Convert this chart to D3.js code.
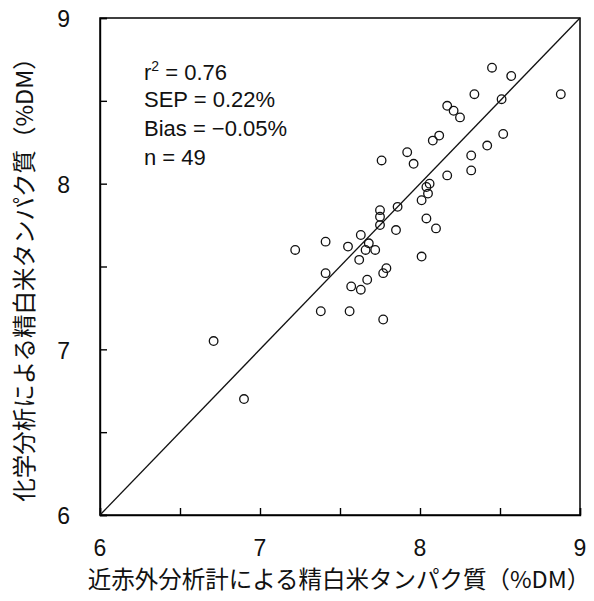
<!DOCTYPE html>
<meta charset="utf-8">
<style>
body { margin: 0; background: #fff; }
.axis path, .axis line { stroke: #000; stroke-width: 1.4; }
.stat { font-family: "Liberation Sans", Arial, sans-serif; font-size: 22px; fill: #111; }
.ticklab { font-family: "Liberation Sans", Arial, sans-serif; font-size: 23px; fill: #111; }
.title { font-family: "Noto Sans CJK JP", sans-serif; font-size: 23.5px; fill: #111; }
</style>
<body>
<script src="https://cdn.jsdelivr.net/npm/d3@7"></script>
<script>

// NIR predicted (x) vs chemical analysis (y), %DM
var nirValues = [8.45, 8.57, 8.88, 8.34, 8.51, 8.17, 8.21, 8.25, 8.12, 8.08,
                 8.52, 8.42, 7.92, 7.96, 8.32, 8.32, 8.17, 7.76, 8.06, 8.04,
                 8.05, 8.01, 7.86, 7.75, 7.75, 7.75, 8.04, 8.10, 7.85, 8.01,
                 7.79, 7.77, 7.63, 7.68, 7.55, 7.66, 7.72, 7.62, 7.41, 7.22,
                 7.41, 7.67, 7.57, 7.63, 7.38, 7.56, 7.77, 6.71, 6.90];
var chemValues = [8.70, 8.65, 8.54, 8.54, 8.51, 8.47, 8.44, 8.40, 8.29, 8.26,
                  8.30, 8.23, 8.19, 8.12, 8.17, 8.08, 8.05, 8.14, 8.00, 7.98,
                  7.94, 7.90, 7.86, 7.84, 7.80, 7.75, 7.79, 7.73, 7.72, 7.56,
                  7.49, 7.46, 7.69, 7.64, 7.62, 7.60, 7.60, 7.54, 7.65, 7.60,
                  7.46, 7.42, 7.38, 7.36, 7.23, 7.23, 7.18, 7.05, 6.70];

var tickValues = [6, 6.5, 7, 7.5, 8, 8.5, 9];
var tickLabels = [6, 7, 8, 9];
var statLines = ["SEP = 0.22%", "Bias = \u22120.05%", "n = 49"];

var xTitle = "近赤外分析計による精白米タンパク質（%DM）";
var yTitle = "化学分析による精白米タンパク質（%DM）";

///------> Setup <-----/////
var W = 594, H = 601;
var margin = {top: 18, right: 14, bottom: 86, left: 100},
    width = W - margin.left - margin.right,
    height = H - margin.top - margin.bottom;

var x = d3.scaleLinear().domain([6, 9]).range([0, width]);
var y = d3.scaleLinear().domain([6, 9]).range([height, 0]);

var svg = d3.select("body").append("svg")
    .attr("width", W)
    .attr("height", H);

var g = svg.append("g")
    .attr("transform", "translate(" + margin.left + "," + margin.top + ")");

// inward ticks, no labels (labels drawn separately)
g.append("g")
    .attr("class", "axis")
    .attr("transform", "translate(0," + height + ")")
    .call(d3.axisTop(x).tickValues(tickValues).tickSize(7).tickFormat(""));

g.append("g")
    .attr("class", "axis")
    .call(d3.axisRight(y).tickValues(tickValues).tickSize(7).tickFormat(""));

// frame
g.append("rect")
    .attr("width", width)
    .attr("height", height)
    .attr("fill", "none")
    .attr("stroke", "#000")
    .attr("stroke-width", 1.5);

// tick labels
g.selectAll(".xlab")
    .data(tickLabels)
    .enter().append("text")
    .attr("class", "ticklab")
    .attr("x", function(d) { return x(d); })
    .attr("y", height + 41)
    .attr("text-anchor", "middle")
    .text(function(d) { return d; });

g.selectAll(".ylab")
    .data(tickLabels)
    .enter().append("text")
    .attr("class", "ticklab")
    .attr("x", -30)
    .attr("y", function(d) { return y(d); })
    .attr("dy", "0.4em")
    .attr("text-anchor", "end")
    .text(function(d) { return d; });

// 1:1 line
g.append("line")
    .attr("x1", x(6)).attr("y1", y(6))
    .attr("x2", x(9)).attr("y2", y(9))
    .attr("stroke", "#111")
    .attr("stroke-width", 1.3);

// points
var data = nirValues.map(function(v, i) { return {nir: v, chem: chemValues[i]}; });

g.selectAll(".dot")
    .data(data)
    .enter().append("circle")
    .attr("class", "dot")
    .attr("cx", function(d) { return x(d.nir); })
    .attr("cy", function(d) { return y(d.chem); })
    .attr("r", 4.3)
    .attr("fill", "none")
    .attr("stroke", "#111")
    .attr("stroke-width", 1.3);

// statistics
var r2 = g.append("text")
    .attr("class", "stat")
    .attr("x", 44)
    .attr("y", 62);
r2.append("tspan").text("r");
r2.append("tspan").attr("dy", -9).attr("font-size", 14).text("2");
r2.append("tspan").attr("dy", 9).text(" = 0.76");

g.selectAll(".statline")
    .data(statLines)
    .enter().append("text")
    .attr("class", "stat")
    .attr("x", 44)
    .attr("y", function(d, i) { return 89 + i * 29; })
    .text(function(d) { return d; });

// axis titles
svg.append("text")
    .attr("class", "title")
    .attr("x", 339)
    .attr("y", 588)
    .attr("text-anchor", "middle")
    .text(xTitle);

svg.append("text")
    .attr("class", "title")
    .attr("transform", "translate(33,274) rotate(-90)")
    .attr("text-anchor", "middle")
    .text(yTitle);

</script>
</body>
